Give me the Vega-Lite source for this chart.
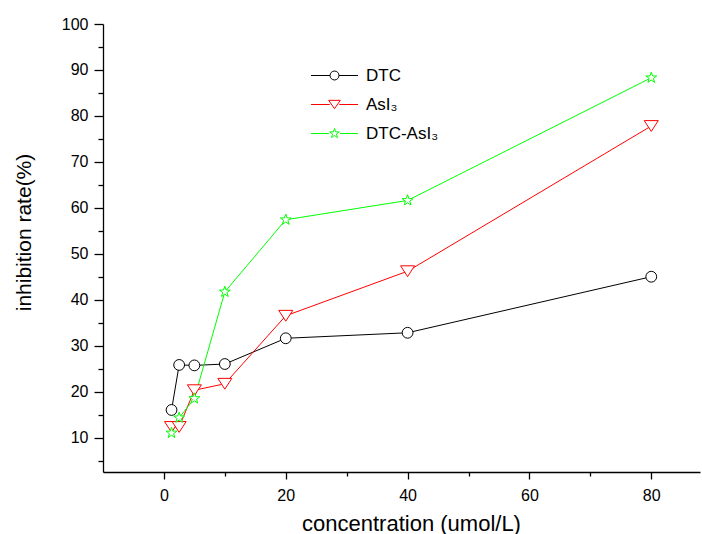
{
  "$schema": "https://vega.github.io/schema/vega-lite/v6.json",
  "width": 597,
  "height": 448,
  "autosize": {"type": "none"},
  "padding": {"left": 103, "top": 24, "right": 2, "bottom": 62},
  "background": "white",
  "config": {
    "font": "Liberation Sans",
    "view": {"stroke": null},
    "axis": {
      "domainColor": "black",
      "domainWidth": 1.3,
      "tickColor": "black",
      "tickWidth": 1.3,
      "labelColor": "black",
      "titleColor": "black",
      "titleFontWeight": "normal",
      "grid": false
    }
  },
  "data": {
    "values": [
      {"series": "DTC", "conc": 1.25, "rate": 16.0},
      {"series": "DTC", "conc": 2.5, "rate": 25.8},
      {"series": "DTC", "conc": 5, "rate": 25.7},
      {"series": "DTC", "conc": 10, "rate": 26.0},
      {"series": "DTC", "conc": 20, "rate": 31.6},
      {"series": "DTC", "conc": 40, "rate": 32.8},
      {"series": "DTC", "conc": 80, "rate": 45.0},
      {"series": "AsI₃", "conc": 1.25, "rate": 12.3},
      {"series": "AsI₃", "conc": 2.5, "rate": 12.3},
      {"series": "AsI₃", "conc": 5, "rate": 20.3},
      {"series": "AsI₃", "conc": 10, "rate": 21.7},
      {"series": "AsI₃", "conc": 20, "rate": 36.5},
      {"series": "AsI₃", "conc": 40, "rate": 46.2},
      {"series": "AsI₃", "conc": 80, "rate": 77.8},
      {"series": "DTC-AsI₃", "conc": 1.25, "rate": 11.0},
      {"series": "DTC-AsI₃", "conc": 2.5, "rate": 14.3},
      {"series": "DTC-AsI₃", "conc": 5, "rate": 18.5},
      {"series": "DTC-AsI₃", "conc": 10, "rate": 41.7},
      {"series": "DTC-AsI₃", "conc": 20, "rate": 57.4},
      {"series": "DTC-AsI₃", "conc": 40, "rate": 61.6},
      {"series": "DTC-AsI₃", "conc": 80, "rate": 88.3}
    ]
  },
  "encoding": {
    "x": {
      "field": "conc",
      "type": "quantitative",
      "scale": {"domain": [-10, 88], "nice": false, "zero": false},
      "axis": {
        "title": "concentration (umol/L)",
        "values": [0, 10, 20, 30, 40, 50, 60, 70, 80],
        "labelExpr": "datum.value % 20 === 0 ? datum.label : ''",
        "tickSize": {"condition": {"test": "datum.value % 20 === 0", "value": 7}, "value": 4},
        "labelFontSize": 16,
        "labelPadding": 8,
        "titleFontSize": 22,
        "titlePadding": 10,
        "titleX": 308
      }
    },
    "y": {
      "field": "rate",
      "type": "quantitative",
      "scale": {"domain": [2.5, 100], "nice": false, "zero": false},
      "axis": {
        "title": "inhibition rate(%)",
        "values": [5, 10, 15, 20, 25, 30, 35, 40, 45, 50, 55, 60, 65, 70, 75, 80, 85, 90, 95, 100],
        "labelExpr": "datum.value % 10 === 0 ? datum.label : ''",
        "tickSize": {"condition": {"test": "datum.value % 10 === 0", "value": 9}, "value": 5},
        "labelFontSize": 16,
        "labelPadding": 6,
        "titleFontSize": 21,
        "titlePadding": 27,
        "titleY": 208
      }
    },
    "color": {
      "field": "series",
      "type": "nominal",
      "scale": {"domain": ["DTC", "AsI₃", "DTC-AsI₃"], "range": ["#000000", "#ff0000", "#00ff00"]},
      "legend": {
        "title": null,
        "orient": "none",
        "legendX": 223,
        "legendY": 43,
        "padding": 0,
        "labelFontSize": 17,
        "labelColor": "black",
        "symbolSize": 256,
        "symbolStrokeWidth": 1,
        "labelOffset": 23,
        "rowPadding": 11,
        "encode": {
          "symbols": {
            "update": {
              "shape": {"signal": "datum.value === 'DTC' ? 'M-2.94,0L-0.56,0M0.56,0L2.94,0M0.56,0L0.517,0.214L0.396,0.396L0.214,0.517L0,0.56L-0.214,0.517L-0.396,0.396L-0.517,0.214L-0.56,0L-0.517,-0.214L-0.396,-0.396L-0.214,-0.517L0,-0.56L0.214,-0.517L0.396,-0.396L0.517,-0.214Z' : (datum.value === 'AsI₃' ? 'M-2.94,0L-0.6,0M0.6,0L2.94,0M-0.73,-0.52L0.73,-0.52L0,0.52Z' : 'M-2.94,0L-0.7,0M0.7,0L2.94,0M0,-0.63L0.147,-0.202L0.599,-0.195L0.238,0.077L0.37,0.51L0,0.25L-0.37,0.51L-0.238,0.077L-0.599,-0.195L-0.147,-0.202Z')"},
              "fill": {"value": "white"},
              "fillOpacity": {"value": 1},
              "strokeWidth": {"value": 1}
            }
          }
        }
      }
    }
  },
  "layer": [
    {
      "mark": {"type": "line", "strokeWidth": 1}
    },
    {
      "transform": [{"filter": "datum.series === 'DTC'"}],
      "mark": {"type": "point", "filled": false, "fill": "white", "fillOpacity": 1, "strokeWidth": 1, "size": 144, "opacity": 1,
        "shape": "M0.9,0L0.831,0.345L0.636,0.636L0.345,0.831L0,0.9L-0.345,0.831L-0.636,0.636L-0.831,0.345L-0.9,0L-0.831,-0.345L-0.636,-0.636L-0.345,-0.831L0,-0.9L0.345,-0.831L0.636,-0.636L0.831,-0.345Z"}
    },
    {
      "transform": [{"filter": "datum.series === 'AsI₃'"}],
      "mark": {"type": "point", "filled": false, "fill": "white", "fillOpacity": 1, "strokeWidth": 1, "size": 144, "opacity": 1,
        "shape": "M-1.17,-0.9L1.17,-0.9L0,0.9Z"}
    },
    {
      "transform": [{"filter": "datum.series === 'DTC-AsI₃'"}],
      "mark": {"type": "point", "filled": false, "fill": "white", "fillOpacity": 1, "strokeWidth": 1, "size": 144, "opacity": 1,
        "shape": "M0,-0.95L0.223,-0.307L0.904,-0.294L0.361,0.117L0.558,0.769L0,0.38L-0.558,0.769L-0.361,0.117L-0.904,-0.294L-0.223,-0.307Z"}
    }
  ]
}
